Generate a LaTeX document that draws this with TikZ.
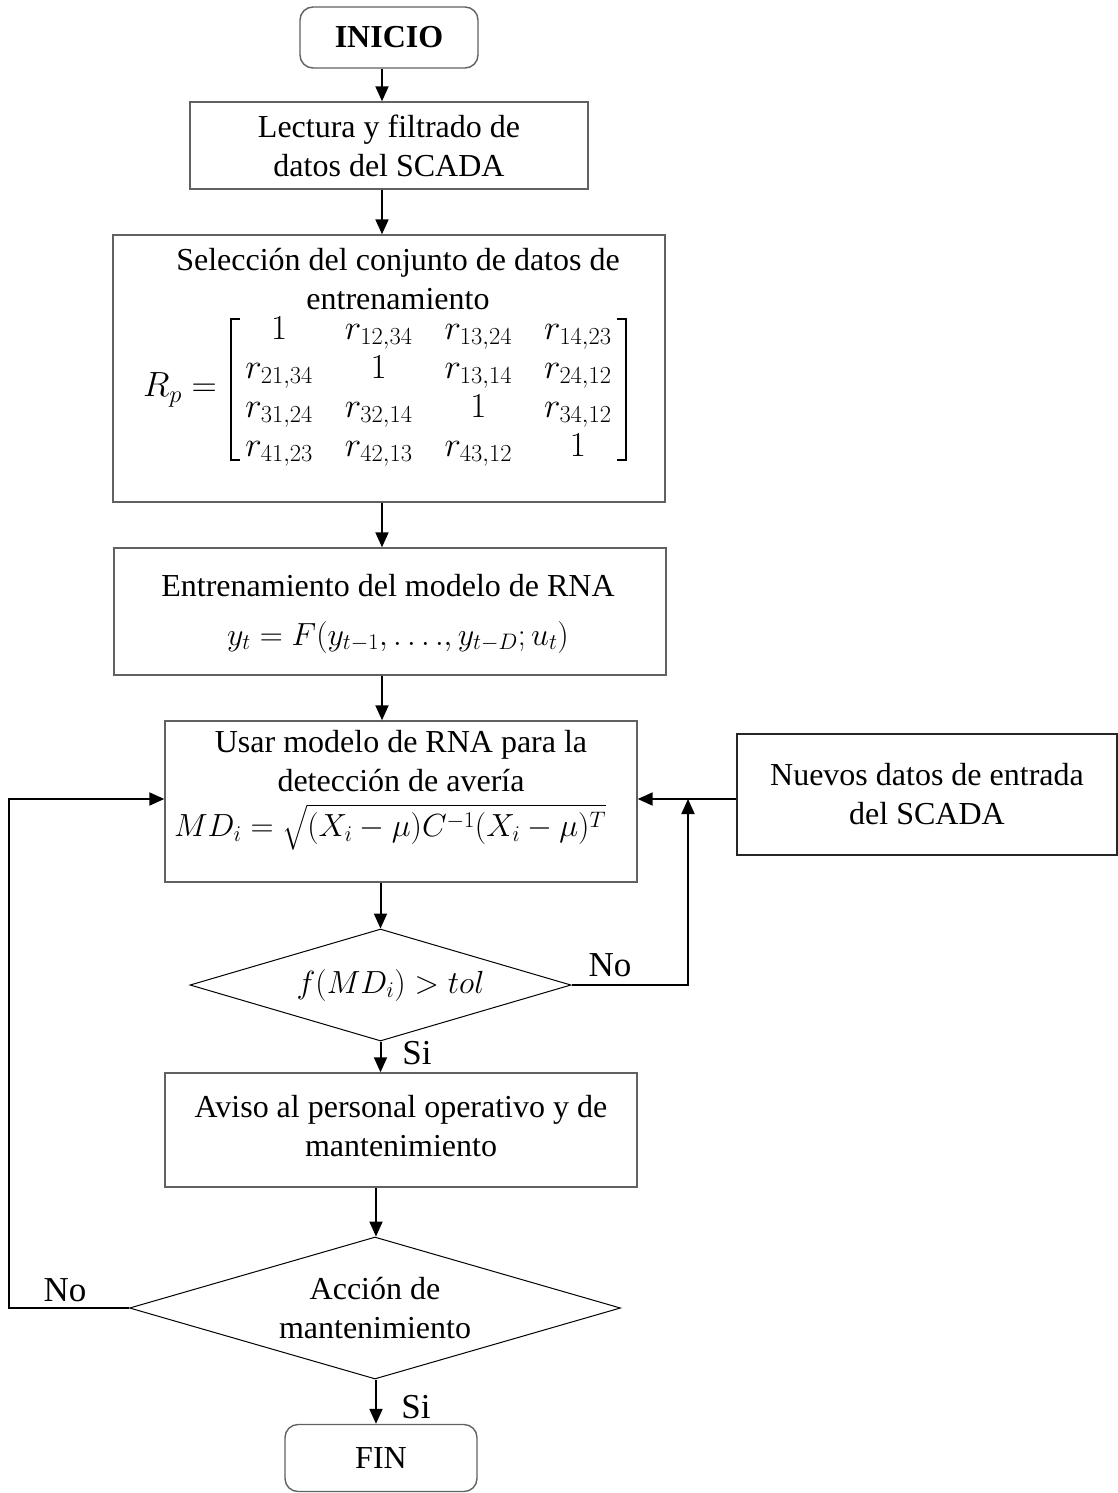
\RequirePackage{fix-cm}
\documentclass[tikz,border=0pt]{standalone}
\usepackage{amsmath}
\usepackage{fontspec}
\setmainfont{Liberation Serif}
\usetikzlibrary{shapes.geometric,arrows.meta}

\colorlet{framegray}{black!62}

\tikzset{
  every node/.style={font=\fontsize{32}{39}\selectfont, inner sep=0pt, align=center},
  stepbox/.style={draw=framegray, line width=1.4pt, rectangle},
  terminal/.style={draw=framegray, line width=1.4pt, rectangle, rounded corners=13pt},
  decision/.style={draw=black, line width=1pt, diamond, aspect=3.4},
  txt/.style={},
  bigmath/.style={font=\fontsize{35}{39}\selectfont},
  bracket/.style={line width=1.4pt},
  answer/.style={font=\fontsize{35}{40}\selectfont},
  conn/.style={line width=2pt, -{Triangle[length=15pt,width=13pt]}}
}

\begin{document}
\begin{tikzpicture}[x=1pt,y=-1pt]
\useasboundingbox (0,0) rectangle (1118,1493);

% process boxes
\node[terminal, minimum width=178pt, minimum height=61pt] (inicio) at (389,37.5) {\bfseries INICIO};
\node[stepbox, minimum width=398pt, minimum height=87pt] (lectura) at (389,145.5)
  {Lectura y filtrado de\\datos del SCADA};

\node[stepbox, minimum width=552pt, minimum height=267pt] (selec) at (389,368.5) {};
\node[txt] (selectxt) at (398,279) {Selección del conjunto de datos de\\entrenamiento};

% partial correlation matrix
\node[txt, bigmath] (rplabel) at (180,390) {$R_p =$};
\node[txt, bigmath] (rpmat) at (428.5,390) {\arraycolsep=16pt
  $\begin{matrix}
    1 & r_{12,34} & r_{13,24} & r_{14,23}\\
    r_{21,34} & 1 & r_{13,14} & r_{24,12}\\
    r_{31,24} & r_{32,14} & 1 & r_{34,12}\\
    r_{41,23} & r_{42,13} & r_{43,12} & 1
  \end{matrix}$};
\draw[bracket] (240,319) -- (231,319) -- (231,460) -- (240,460);
\draw[bracket] (617,319) -- (626,319) -- (626,460) -- (617,460);

\node[stepbox, minimum width=552pt, minimum height=127pt] (entren) at (390,611.5) {};
\node[txt] (entrentxt) at (388,586) {Entrenamiento del modelo de RNA};
\node[txt] (entrenf) at (398,637) {$y_t = F(y_{t-1}, \ldots., y_{t-D}; u_t)$};

\node[stepbox, minimum width=472pt, minimum height=161pt] (usar) at (401,801.5) {};
\node[txt] (usartxt) at (401,761) {Usar modelo de RNA para la\\detección de avería};
\node[txt] (usarf) at (390,827) {$MD_i = \sqrt{(X_i-\mu)C^{-1}(X_i-\mu)^T}$};

\node[stepbox, draw=black!85, minimum width=380pt, minimum height=121pt] (nuevos) at (927,794.5)
  {Nuevos datos de entrada\\del SCADA};

\node[decision, minimum width=381pt, minimum height=112pt] (dec1) at (380.5,985)
  {\hspace*{20pt}$f(MD_i) > tol$};

\node[stepbox, minimum width=472pt, minimum height=114pt] (aviso) at (401,1130) {};
\node[txt] (avisotxt) at (401,1126) {Aviso al personal operativo y de\\mantenimiento};

\node[decision, minimum width=491pt, minimum height=142pt] (dec2) at (375,1308)
  {Acción de\\mantenimiento};

\node[terminal, minimum width=192pt, minimum height=67pt] (fin) at (381,1458) {FIN};

% helper columns and rows for the connectors
\coordinate (colA) at (382,0);
\coordinate (colC) at (376,0);
\coordinate (riser) at (688,0);
\coordinate (loopx) at (9,0);
\coordinate (inrow) at (0,799);

% main flow
\draw[conn] (inicio.south -| colA) -- (lectura.north -| colA);
\draw[conn] (lectura.south -| colA) -- (selec.north -| colA);
\draw[conn] (selec.south -| colA) -- (entren.north -| colA);
\draw[conn] (entren.south -| colA) -- (usar.north -| colA);
\draw[conn] (usar.south -| dec1.north) -- (dec1.north);
\draw[conn] (dec1.south) -- (aviso.north -| dec1.south);
\draw[conn] (aviso.south -| colC) -- (dec2.north -| colC);
\draw[conn] (dec2.south -| colC) -- (fin.north -| colC);

% new data feeding the detection step
\draw[conn] (nuevos.west |- inrow) -- (usar.east |- inrow);
\draw[conn] (dec1.east) -- (dec1.east -| riser) -- (riser |- inrow);

% loop back when no maintenance action is taken
\draw[conn] (dec2.west) -- (dec2.west -| loopx) -- (loopx |- inrow) -- (usar.west |- inrow);

% branch labels
\node[answer] (no1) at (610,965) {No};
\node[answer] (si1) at (417,1053) {Si};
\node[answer] (no2) at (65,1290) {No};
\node[answer] (si2) at (416,1407) {Si};
\end{tikzpicture}
\end{document}
